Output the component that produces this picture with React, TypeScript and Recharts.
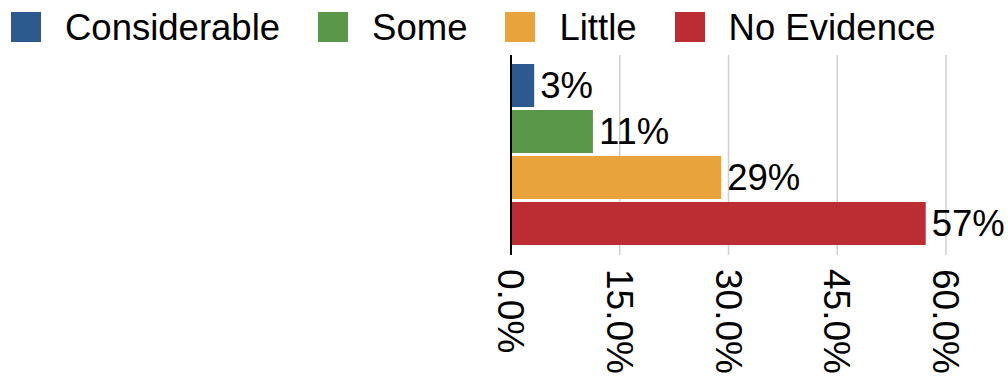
import { BarChart, Bar, XAxis, YAxis, CartesianGrid, LabelList } from "recharts";

const categories = [""];
const seriesNames = ["Considerable", "Some", "Little", "No Evidence"];
const seriesKeys = ["considerable", "some", "little", "noEvidence"];
const seriesColors = ["#2d5a8e", "#5b9748", "#e8a33c", "#bb2d32"];
const considerable = [3.2];
const some = [11.3];
const little = [29.0];
const noEvidence = [57.2];
const xTicks = [0, 15, 30, 45, 60];

const data = categories.map((name, i) => ({
  name,
  considerable: considerable[i],
  some: some[i],
  little: little[i],
  noEvidence: noEvidence[i],
}));

const FONT = "'Liberation Sans', Arial, Helvetica, sans-serif";

const RotatedTick = (props: any) => {
  const { x, y, payload } = props;
  return (
    <text
      transform={`translate(${x},${y + 6}) rotate(90)`}
      textAnchor="start"
      dy="0.35em"
      fontSize={37}
      fontFamily={FONT}
      fill="#000"
    >
      {`${Number(payload.value).toFixed(1)}%`}
    </text>
  );
};

const ChartLegend = () => (
  <div
    style={{
      position: "absolute",
      top: 12,
      left: 11,
      display: "flex",
      alignItems: "center",
      height: 30,
      fontFamily: FONT,
      fontSize: 36.5,
      lineHeight: "30px",
      color: "#000",
      whiteSpace: "nowrap",
    }}
  >
    {seriesNames.map((name, i) => (
      <div key={name} style={{ display: "flex", alignItems: "center", marginRight: 38 }}>
        <span style={{ width: 30, height: 30, background: seriesColors[i], marginRight: 24 }} />
        <span style={{ position: "relative", top: 1 }}>{name}</span>
      </div>
    ))}
  </div>
);

export default function App() {
  return (
    <div style={{ position: "relative", width: 1008, height: 376 }}>
      <style>{`body{margin:0}`}</style>
      <ChartLegend />
      <BarChart
        width={1008}
        height={376}
        data={data}
        layout="vertical"
        barCategoryGap={9}
        barGap={3}
        margin={{ top: 55, right: 62, left: 510, bottom: 6 }}
      >
        <CartesianGrid horizontal={false} stroke="#d0d0d0" strokeWidth={1.5} />
        <XAxis
          type="number"
          domain={[0, 60]}
          ticks={xTicks}
          tick={<RotatedTick />}
          tickLine={false}
          axisLine={false}
          height={115}
          interval={0}
        />
        <YAxis
          type="category"
          dataKey="name"
          width={1}
          tick={false}
          tickLine={false}
          axisLine={{ stroke: "#000", strokeWidth: 2 }}
        />
        {seriesKeys.map((key, i) => (
          <Bar key={key} dataKey={key} fill={seriesColors[i]} isAnimationActive={false}>
            <LabelList
              dataKey={key}
              position="right"
              offset={6}
              fontSize={36.5}
              fontFamily={FONT}
              fill="#000"
              formatter={(v: any) => `${Math.round(Number(v))}%`}
            />
          </Bar>
        ))}
      </BarChart>
    </div>
  );
}
